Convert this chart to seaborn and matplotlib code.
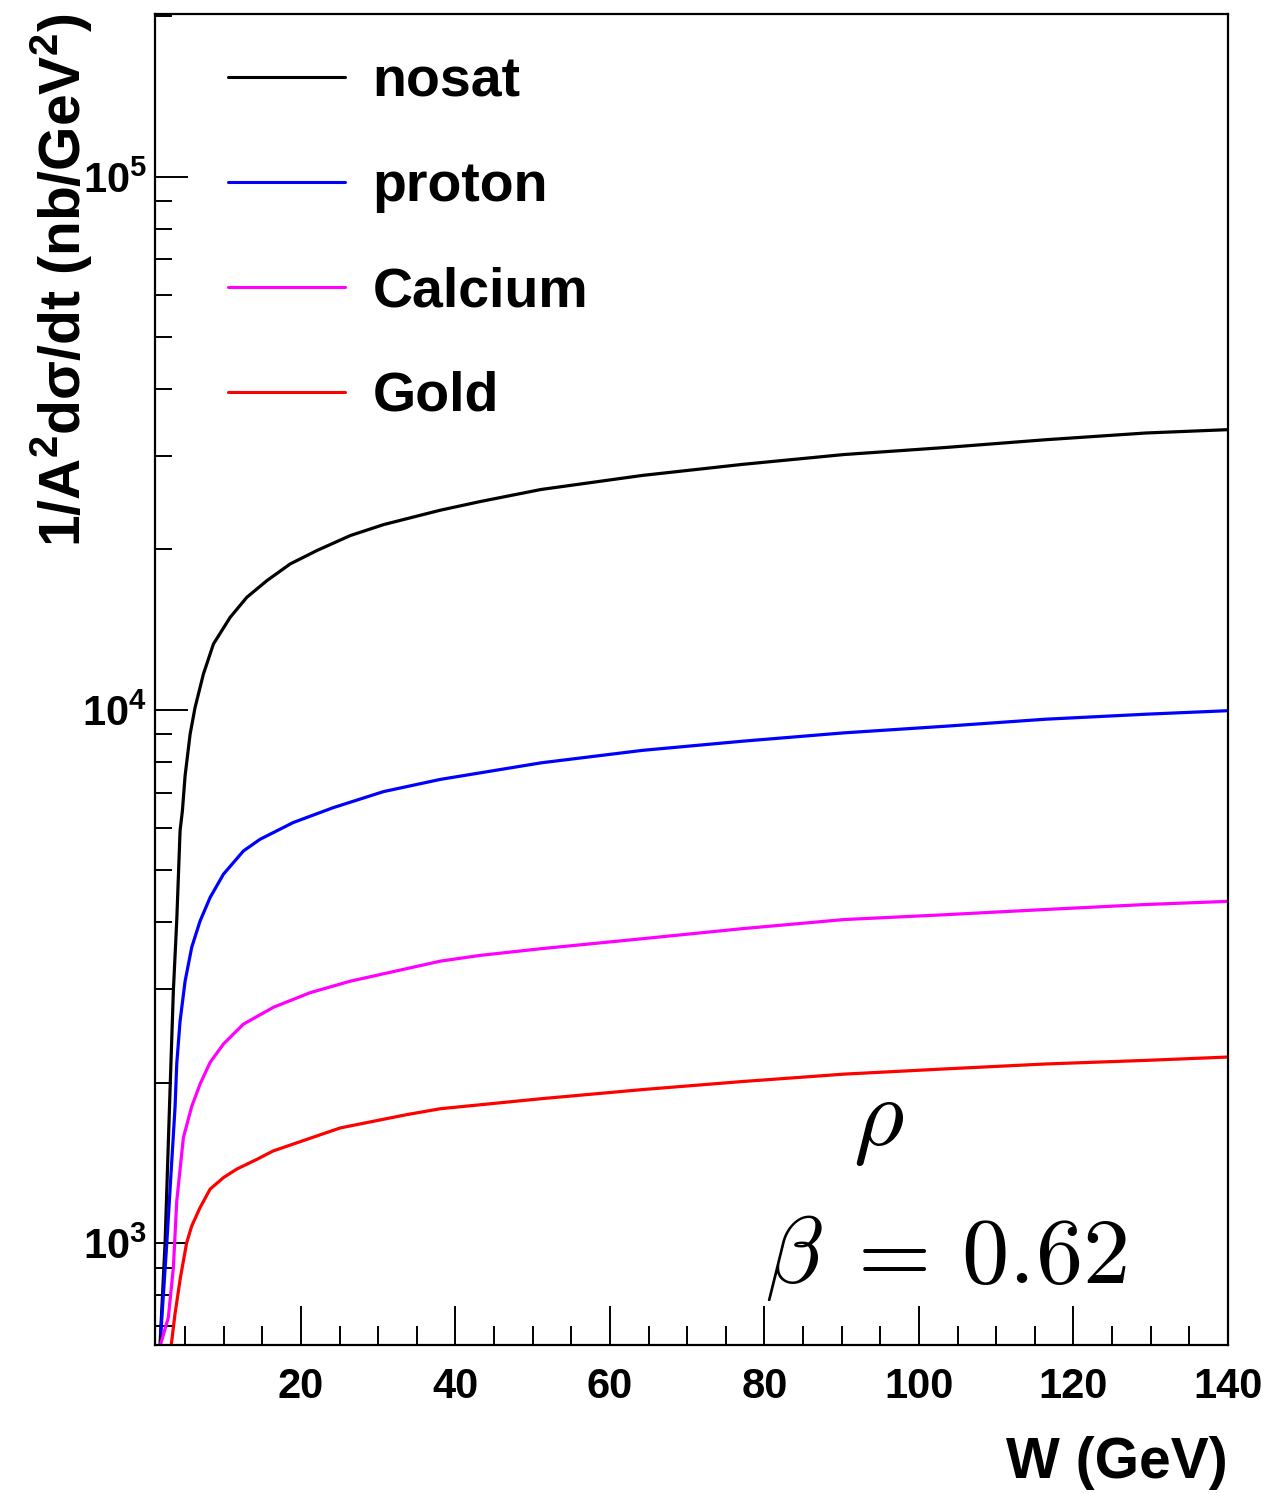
import numpy as np
import pandas as pd
import matplotlib
matplotlib.use("Agg")
import matplotlib.pyplot as plt
import matplotlib.ticker as mticker
import seaborn as sns

# Centre-of-mass energy W (GeV) and 1/A^2 dsigma/dt (nb/GeV^2) for each target
w_nosat = [1.77, 2.42, 3.06, 3.49, 3.93, 4.36, 4.66, 5.01, 5.66, 6.30, 7.38, 8.68,
           10.84, 13.0, 15.59, 18.61, 22.07, 26.39, 30.7, 38.05, 43.2, 51.1, 64.2,
           77.2, 90.3, 103.3, 116.4, 129.4, 140.0]
y_nosat = [647, 1000, 1936, 2972, 4030, 5940, 6470, 7530, 9010, 10110, 11680, 13300,
           14920, 16270, 17480, 18790, 19910, 21240, 22270, 23700, 24600, 25920, 27540,
           28890, 30140, 31060, 32130, 33080, 33560]

w_proton = [1.86, 2.64, 3.71, 3.93, 4.36, 5.01, 5.87, 6.95, 8.25, 9.97, 12.56, 14.7,
            19.0, 24.2, 30.7, 38.05, 51.1, 64.2, 77.2, 90.3, 103.3, 116.4, 129.4, 140.0]
y_proton = [675, 1000, 1800, 2170, 2610, 3100, 3590, 4020, 4450, 4920, 5440, 5720,
            6150, 6560, 7030, 7410, 7960, 8400, 8740, 9060, 9320, 9610, 9820, 9970]

w_calcium = [1.77, 2.84, 3.49, 3.93, 4.79, 5.87, 6.95, 8.25, 9.97, 12.56, 16.45, 21.2,
             26.39, 38.05, 43.2, 51.1, 64.2, 77.2, 90.3, 103.3, 116.4, 129.4, 140.0]
y_calcium = [641, 725, 899, 1199, 1578, 1805, 1988, 2183, 2363, 2575, 2770, 2950,
             3100, 3380, 3465, 3567, 3724, 3890, 4045, 4130, 4225, 4317, 4376]

w_gold = [3.2, 3.7, 4.4, 5.2, 5.87, 6.95, 8.25, 9.97, 11.7, 14.3, 16.4, 25.1, 33.7,
          38.05, 51.1, 64.2, 77.2, 90.3, 103.3, 116.4, 129.4, 140.0]
y_gold = [641, 736, 861, 1000, 1077, 1166, 1263, 1327, 1377, 1436, 1489, 1645, 1742,
          1787, 1866, 1941, 2010, 2075, 2122, 2168, 2202, 2234]

series_names = ["nosat", "proton", "Calcium", "Gold"]
series_colors = ["#000000", "#0000ff", "#ff00ff", "#ff0000"]
series_w = [w_nosat, w_proton, w_calcium, w_gold]
series_y = [y_nosat, y_proton, y_calcium, y_gold]

x_ticks = [20, 40, 60, 80, 100, 120, 140]

sns.set_theme(style="white")
plt.rcParams["font.family"] = ["Liberation Sans", "DejaVu Sans"]
plt.rcParams["font.weight"] = "bold"
plt.rcParams["axes.labelweight"] = "bold"
plt.rcParams["text.color"] = "black"
plt.rcParams["axes.labelcolor"] = "black"
plt.rcParams["xtick.color"] = "black"
plt.rcParams["ytick.color"] = "black"

fig = plt.figure(figsize=(12.74, 14.93), dpi=100)
ax = fig.add_axes([0.1217, 0.0991, 0.8422, 0.8915])

for name, color, ws, ys in zip(series_names, series_colors, series_w, series_y):
    df = pd.DataFrame({"W": ws, "val": ys})
    sns.lineplot(data=df, x="W", y="val", color=color, linewidth=2.3,
                 estimator=None, sort=True, label=name, ax=ax)

ax.set_yscale("log")
ax.set_xlim(1.12, 140)
ax.set_ylim(644, 2.02e5)

ax.xaxis.set_major_locator(mticker.FixedLocator(x_ticks))
ax.xaxis.set_minor_locator(mticker.MultipleLocator(5))
ax.yaxis.set_major_locator(mticker.LogLocator(base=10, numticks=10))
ax.yaxis.set_minor_locator(mticker.LogLocator(base=10, subs=np.arange(2, 10), numticks=20))
ax.yaxis.set_minor_formatter(mticker.NullFormatter())

for side in ["left", "right", "top", "bottom"]:
    ax.spines[side].set_linewidth(1.6)
    ax.spines[side].set_color("black")

ax.tick_params(axis="both", which="both", direction="in", colors="black",
               width=1.4, top=False, right=False, bottom=True, left=True,
               labelsize=30)
ax.tick_params(axis="x", which="major", length=28, pad=16)
ax.tick_params(axis="x", which="minor", length=14)
ax.tick_params(axis="y", which="major", length=24, pad=6)
ax.tick_params(axis="y", which="minor", length=12)
for lbl in ax.get_xticklabels() + ax.get_yticklabels():
    lbl.set_fontweight("bold")
    lbl.set_color("black")

ax.set_xlabel("W (GeV)", fontsize=41, fontweight="bold", loc="right", color="black")
ax.set_ylabel(r"1/A$^{\mathdefault{2}}$dσ/dt (nb/GeV$^{\mathdefault{2}}$)",
              fontsize=41, fontweight="bold", loc="top", color="black")
ax.xaxis.set_label_coords(1.0, -0.068)
ax.yaxis.set_label_coords(-0.056, 1.0)

leg = ax.legend(loc="upper left", bbox_to_anchor=(0.068, 0.968), frameon=False,
                borderaxespad=0, borderpad=0, handlelength=2.1, handletextpad=0.5,
                labelspacing=0.95, prop={"family": "Liberation Sans",
                                         "weight": "bold", "size": 40})
for txt in leg.get_texts():
    txt.set_color("black")
for line in leg.get_lines():
    line.set_linewidth(2.2)

ax.text(0.674, 0.150, r"$\rho$", transform=ax.transAxes, fontsize=70,
        ha="center", va="baseline", math_fontfamily="cm", color="black")
ax.text(0.737, 0.0466, r"$\beta\;=\,0.62$", transform=ax.transAxes, fontsize=68,
        ha="center", va="baseline", math_fontfamily="cm", color="black")

fig.savefig("out.png", dpi=100, facecolor="white")
